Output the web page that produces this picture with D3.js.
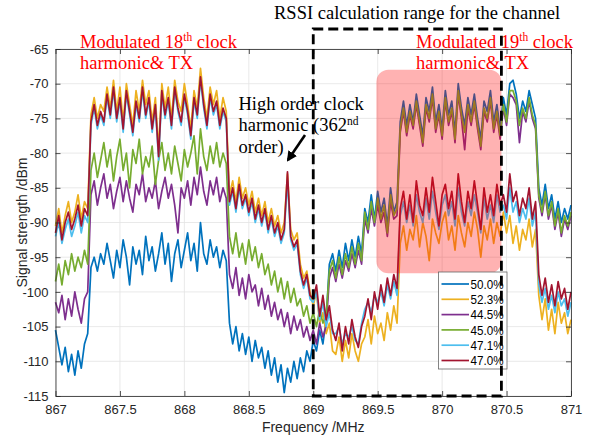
<!DOCTYPE html>
<html>
<head>
<meta charset="utf-8">
<script src="https://cdn.jsdelivr.net/npm/d3@7"></script>
<style>
  body { margin: 0; background: #fff; }
  svg { display: block; }
  .tick text { font-family: "Liberation Sans", Arial, sans-serif; font-size: 13px; fill: #262626; }
  .serif { font-family: "Liberation Serif", "Times New Roman", serif; font-size: 18.5px; }
</style>
</head>
<body>
<svg id="graph"></svg>
<script>
//Tick values
var xTicks = [867, 867.5, 868, 868.5, 869, 869.5, 870, 870.5, 871];
var yTicks = [-65, -70, -75, -80, -85, -90, -95, -100, -105, -110, -115];

//Legend labels and colours (plot order)
var seriesNames = ["50.0%", "52.3%", "44.5%", "45.0%", "47.1%", "47.0%"];
var seriesColors = ["#0072BD", "#EDB120", "#7E2F8E", "#77AC30", "#4DBEEE", "#A2142F"];

//Frequency grid in MHz (0.025 MHz steps, 867 to 871)
var freqs = d3.range(0, 161).map(function(i){ return 867 + i * 0.025; });

//Signal strength in dBm
var s500 = [-105.5,-108.0,-110.5,-108.0,-111.5,-109.0,-112.0,-108.5,-111.0,-107.5,-106.0,
  -96.5,-95.0,-97.0,-94.5,-96.0,-93.0,-95.5,-98.0,-94.0,-96.5,
  -92.5,-95.0,-99.0,-93.5,-96.0,-94.0,-97.5,-92.0,-95.5,-93.5,
  -97.0,-94.5,-91.5,-96.0,-93.0,-98.5,-94.5,-92.5,-96.5,-94.0,
  -91.5,-95.5,-93.0,-97.0,-90.0,-94.5,-96.0,-92.5,-95.0,-93.5,
  -96.5,-94.0,-95.5,
  -104.5,-107.5,-105.0,-108.5,-106.0,-109.0,-106.5,-110.0,-107.0,-109.5,
  -108.0,-111.0,-108.5,-112.0,-109.5,-113.0,-110.5,-114.5,-111.0,-113.0,
  -110.0,-112.5,-109.5,-111.5,-108.5,-110.0,
  -107.0,-108.5,-105.5,-107.5,-104.0,-96.0,-94.5,
  -97.0,-94.0,-96.5,-93.0,-95.5,-92.5,-95.0,-92.0,-94.5,
  -88.0,-90.0,-86.0,-89.5,-85.5,-88.5,-86.5,-90.5,-85.0,-88.5,-87.0,
  -75.5,-72.5,-76.0,-73.0,-75.5,-71.5,-74.5,-77.5,-72.0,-74.0,
  -70.5,-75.5,-73.0,-76.5,-71.0,-74.5,-72.5,-77.0,-70.0,-73.5,
  -76.0,-72.0,-74.5,-71.5,-75.0,-78.0,-72.5,-74.0,-71.0,-75.5,
  -73.0,-76.5,-72.0,-74.5,-70.0,-69.5,-71.5,-75.0,-72.5,-74.0,
  -71.0,-73.0,-75.0,
  -85.0,-87.5,-84.5,-88.0,-86.0,-89.5,-87.0,-90.0,-88.0,-89.5,-87.5];

var s523 = [-90.5,-88.0,-91.5,-89.0,-87.0,-90.0,-88.5,-86.0,-89.5,-87.0,-88.0,
  -74.5,-72.0,-75.0,-73.0,-74.0,-70.5,-73.5,-69.5,-74.0,-70.5,
  -75.5,-70.0,-73.0,-76.0,-71.0,-74.0,-69.5,-73.0,-71.0,-75.5,
  -72.0,-79.5,-70.0,-73.5,-70.5,-75.0,-69.5,-72.5,-74.0,-70.0,
  -73.0,-76.5,-71.0,-73.5,-67.8,-72.0,-75.0,-70.5,-73.0,-71.0,
  -75.0,-72.0,-74.0,
  -86.0,-84.0,-87.0,-83.5,-86.5,-85.0,-87.5,-85.5,-88.5,-86.5,
  -89.0,-87.0,-90.0,-88.0,-90.5,-89.0,-91.5,-90.0,-83.0,-91.0,
  -92.5,-91.5,-96.0,-98.0,-97.0,-100.0,
  -102.0,-100.0,-104.5,-103.0,-106.0,-104.5,-108.5,
  -109.0,-106.5,-110.0,-107.0,-109.5,-106.0,-108.5,-110.0,-107.5,
  -106.5,-104.0,-107.5,-103.5,-106.0,-104.5,-107.0,-103.0,-105.5,-102.0,-104.5,
  -93.0,-90.5,-94.0,-91.0,-92.5,-89.0,-93.5,-90.0,-92.0,-95.5,
  -89.5,-91.5,-93.0,-90.0,-88.5,-92.5,-90.5,-94.0,-89.0,-91.5,
  -93.5,-90.0,-92.0,-88.5,-91.0,-95.0,-90.5,-92.5,-89.5,-93.0,
  -90.0,-92.0,-88.5,-91.5,-89.0,-93.0,-90.5,-94.0,-91.0,-92.5,
  -89.5,-93.5,-91.0,
  -100.5,-104.0,-101.0,-105.5,-102.5,-106.0,-101.5,-104.5,-103.0,-106.0,-104.0];

var s445 = [-101.5,-103.0,-100.5,-104.0,-101.0,-103.5,-100.0,-102.5,-104.5,-101.0,-100.0,
  -86.0,-84.0,-87.5,-85.0,-83.0,-86.5,-84.5,-88.0,-85.5,-83.5,
  -87.0,-84.0,-86.5,-88.5,-84.5,-86.0,-83.0,-87.0,-85.0,-86.5,
  -84.0,-88.0,-85.5,-83.5,-86.5,-84.5,-87.5,-91.5,-85.0,-86.5,
  -84.0,-87.5,-83.5,-86.0,-82.0,-85.5,-87.5,-84.0,-86.0,-83.5,
  -87.0,-85.0,-86.5,
  -97.5,-99.5,-96.5,-100.5,-98.0,-101.0,-97.5,-100.0,-99.0,-102.0,
  -99.5,-102.5,-100.5,-103.5,-101.5,-104.0,-102.5,-105.0,-103.0,-106.0,
  -103.5,-105.5,-104.0,-106.5,-105.0,-107.0,
  -105.5,-107.5,-104.5,-106.5,-105.0,-98.0,-96.5,
  -98.5,-96.0,-98.0,-95.5,-97.0,-94.5,-96.5,-94.0,-96.0,
  -89.5,-91.5,-88.0,-90.5,-87.5,-90.0,-88.5,-92.0,-87.0,-89.5,-89.0,
  -77.0,-74.0,-77.5,-74.5,-76.5,-73.0,-76.0,-79.0,-73.5,-75.5,
  -72.0,-77.0,-74.5,-78.0,-72.5,-76.0,-74.0,-78.5,-71.5,-75.0,
  -79.5,-73.5,-76.0,-73.0,-76.5,-79.5,-74.0,-75.5,-72.5,-77.0,
  -74.5,-78.0,-73.5,-76.0,-71.5,-72.0,-73.0,-78.5,-74.0,-75.5,
  -72.5,-75.0,-76.5,
  -86.5,-89.0,-86.0,-89.5,-87.5,-91.0,-88.5,-92.0,-89.5,-91.0,-89.0];

var s450 = [-98.5,-96.0,-99.0,-95.5,-97.5,-94.5,-97.0,-95.0,-96.5,-94.0,-96.0,
  -82.5,-80.0,-83.5,-81.0,-78.5,-82.0,-79.5,-84.0,-80.5,-78.0,
  -82.5,-80.0,-85.0,-79.5,-81.5,-78.0,-83.0,-80.5,-82.0,-79.0,
  -84.5,-81.0,-78.5,-82.5,-80.0,-83.0,-79.0,-81.5,-84.0,-79.5,
  -82.0,-80.0,-77.5,-83.0,-76.5,-80.5,-82.5,-79.0,-81.5,-78.5,
  -82.0,-80.0,-81.5,
  -92.0,-94.5,-91.5,-95.0,-93.0,-96.0,-92.5,-95.5,-93.5,-96.5,
  -94.5,-97.5,-96.0,-99.0,-97.0,-100.0,-98.0,-101.0,-98.5,-101.5,
  -99.5,-102.0,-101.0,-103.5,-102.0,-104.5,
  -103.0,-105.0,-102.5,-104.5,-103.5,-97.0,-95.5,
  -98.0,-95.0,-97.5,-94.5,-96.5,-93.5,-96.0,-93.0,-95.5,
  -88.5,-91.0,-87.0,-90.0,-86.5,-89.5,-87.5,-91.5,-86.0,-89.0,-88.0,
  -76.5,-73.5,-77.0,-74.0,-76.0,-72.5,-75.5,-78.5,-73.0,-75.0,
  -71.5,-76.5,-74.0,-77.5,-72.0,-75.5,-73.5,-78.0,-71.0,-74.5,
  -77.0,-73.0,-75.5,-72.5,-76.0,-79.0,-73.5,-75.0,-72.0,-76.5,
  -74.0,-77.5,-73.0,-75.5,-71.0,-71.0,-72.5,-76.0,-73.5,-75.0,
  -72.0,-74.5,-76.0,
  -86.0,-88.5,-85.5,-89.0,-87.0,-90.5,-88.0,-91.5,-89.0,-90.5,-88.5];

var s471 = [-92.0,-90.0,-93.0,-91.0,-89.5,-92.0,-90.5,-88.5,-91.5,-89.0,-90.0,
  -76.0,-73.5,-76.5,-74.5,-76.0,-72.0,-75.0,-71.0,-75.5,-72.5,
  -77.0,-71.5,-74.5,-77.5,-73.0,-75.5,-71.0,-75.0,-72.5,-77.0,
  -73.5,-81.0,-71.5,-75.0,-72.5,-76.5,-71.0,-74.0,-76.0,-72.0,
  -74.5,-78.0,-72.5,-75.0,-69.5,-73.5,-76.5,-72.0,-74.5,-73.0,
  -76.5,-74.0,-75.5,
  -87.5,-85.5,-88.5,-85.0,-88.0,-86.5,-89.0,-87.0,-90.0,-88.0,
  -90.5,-88.5,-91.5,-89.5,-92.0,-90.5,-93.0,-91.5,-84.0,-92.5,
  -94.0,-93.0,-97.5,-99.5,-98.0,-101.0,
  -101.5,-100.0,-104.0,-101.5,-105.0,-103.0,-106.0,
  -106.0,-105.0,-107.5,-106.0,-106.5,-105.0,-107.0,-107.5,-104.5,
  -102.5,-101.5,-103.0,-100.5,-101.5,-100.0,-102.0,-99.0,-101.0,-98.5,-100.5,
  -89.0,-87.0,-90.0,-87.5,-90.5,-86.0,-88.5,-90.0,-86.5,-89.5,
  -85.5,-88.5,-91.0,-87.5,-86.0,-89.0,-87.0,-90.5,-85.0,-88.5,
  -90.5,-87.0,-89.0,-86.0,-88.5,-91.5,-86.5,-89.5,-87.5,-90.0,
  -86.0,-88.5,-87.5,-89.5,-85.0,-88.5,-87.0,-90.0,-88.0,-89.5,
  -86.5,-90.5,-88.5,
  -99.0,-101.5,-99.5,-102.5,-100.5,-103.0,-100.0,-102.0,-101.0,-103.5,-101.5];

var s470 = [-91.5,-89.0,-92.5,-90.0,-88.5,-91.0,-89.5,-87.5,-90.5,-88.0,-89.0,
  -75.5,-73.0,-76.0,-74.0,-75.5,-71.5,-74.5,-70.5,-75.0,-72.0,
  -76.5,-71.0,-74.0,-77.0,-72.5,-75.0,-70.5,-74.5,-72.0,-76.5,
  -73.0,-80.5,-71.0,-74.5,-72.0,-76.0,-70.5,-73.5,-75.5,-71.5,
  -74.0,-77.5,-72.0,-74.5,-69.0,-73.0,-76.0,-71.5,-74.0,-72.5,
  -76.0,-73.5,-75.0,
  -87.0,-85.0,-88.0,-84.5,-87.5,-86.0,-88.5,-86.5,-89.5,-87.5,
  -90.0,-88.0,-91.0,-89.0,-91.5,-90.0,-92.5,-91.0,-82.7,-92.0,
  -93.5,-92.5,-97.0,-99.0,-97.5,-100.5,
  -101.0,-99.0,-103.5,-100.5,-104.0,-102.0,-105.5,
  -107.0,-104.5,-108.5,-105.0,-107.5,-104.0,-106.5,-108.0,-105.0,
  -103.5,-101.0,-104.0,-100.0,-102.5,-99.0,-101.5,-98.0,-100.5,-97.5,-99.5,
  -88.0,-85.5,-89.5,-86.0,-90.0,-84.0,-87.5,-89.0,-85.0,-88.5,
  -83.5,-87.0,-90.5,-86.0,-84.5,-88.0,-85.5,-89.5,-83.0,-87.0,
  -90.0,-85.5,-88.0,-84.0,-87.5,-91.0,-85.0,-88.5,-86.0,-89.0,
  -84.5,-87.5,-86.0,-88.5,-83.0,-87.0,-85.5,-89.0,-86.5,-88.0,
  -85.0,-89.5,-87.0,
  -97.5,-100.5,-98.0,-101.5,-99.0,-102.0,-98.5,-101.0,-99.5,-102.5,-100.0];

var seriesValues = [s500, s523, s445, s450, s471, s470];

//Set graph size
var screen = {width: 593, height: 439};
var plot = {left: 55.5, right: 571, top: 49, bottom: 396};

var svg = d3.select("#graph")
    .attr("width", screen.width)
    .attr("height", screen.height);

//Scales
var xScale = d3.scaleLinear()
    .domain([867, 871])
    .range([plot.left, plot.right]);

var yScale = d3.scaleLinear()
    .domain([-115, -65])
    .range([plot.bottom, plot.top]);

//Grid lines
svg.append("g").selectAll("line")
    .data(xTicks)
    .enter()
    .append("line")
    .attr("x1", function(d){ return xScale(d); })
    .attr("x2", function(d){ return xScale(d); })
    .attr("y1", plot.top)
    .attr("y2", plot.bottom)
    .attr("stroke", "#e3e3e3")
    .attr("stroke-width", 0.8);

svg.append("g").selectAll("line")
    .data(yTicks)
    .enter()
    .append("line")
    .attr("y1", function(d){ return yScale(d); })
    .attr("y2", function(d){ return yScale(d); })
    .attr("x1", plot.left)
    .attr("x2", plot.right)
    .attr("stroke", "#e3e3e3")
    .attr("stroke-width", 0.8);

//Spectrum lines
var line = d3.line()
    .x(function(d){ return xScale(d.f); })
    .y(function(d){ return yScale(d.v); });

svg.append("g")
    .selectAll("path")
    .data(seriesValues)
    .enter()
    .append("path")
    .attr("d", function(vals){
        var pts = vals.map(function(v, i){ return {f: freqs[i], v: v}; })
            .filter(function(p){ return p.f !== undefined; });
        return line(pts);
    })
    .attr("fill", "none")
    .attr("stroke", function(d, i){ return seriesColors[i]; })
    .attr("stroke-width", 1.7)
    .attr("stroke-linejoin", "round");

//Highlighted band (semi-transparent red box over the lines)
svg.append("rect")
    .attr("x", xScale(869.49))
    .attr("y", yScale(-68.0))
    .attr("width", xScale(870.46) - xScale(869.49))
    .attr("height", yScale(-97.3) - yScale(-68.0))
    .attr("rx", 12)
    .attr("fill", "rgba(255,0,0,0.3)");

//Axes (ticks point inward, box on)
var fmt = function(d){ return String(d); };

svg.append("g")
    .attr("transform", "translate(0," + plot.bottom + ")")
    .call(d3.axisBottom(xScale).tickValues(xTicks).tickFormat(fmt).tickSizeInner(-5).tickSizeOuter(0).tickPadding(9));

svg.append("g")
    .attr("transform", "translate(" + plot.left + ",0)")
    .call(d3.axisLeft(yScale).tickValues(yTicks).tickFormat(fmt).tickSizeInner(-5).tickSizeOuter(0).tickPadding(7));

svg.append("g")
    .attr("transform", "translate(0," + plot.top + ")")
    .call(d3.axisTop(xScale).tickValues(xTicks).tickFormat("").tickSizeInner(-5).tickSizeOuter(0));

svg.append("g")
    .attr("transform", "translate(" + plot.right + ",0)")
    .call(d3.axisRight(yScale).tickValues(yTicks).tickFormat("").tickSizeInner(-5).tickSizeOuter(0));

svg.selectAll(".domain, .tick line")
    .attr("stroke", "#262626")
    .attr("stroke-width", 0.8);

//Axis labels
svg.append("text")
    .attr("x", (plot.left + plot.right) / 2)
    .attr("y", 432)
    .attr("text-anchor", "middle")
    .style("font-family", "'Liberation Sans', Arial, sans-serif")
    .style("font-size", "14px")
    .attr("fill", "#262626")
    .text("Frequency /MHz");

svg.append("text")
    .attr("transform", "translate(27," + ((plot.top + plot.bottom) / 2) + ") rotate(-90)")
    .attr("text-anchor", "middle")
    .style("font-family", "'Liberation Sans', Arial, sans-serif")
    .style("font-size", "14px")
    .attr("fill", "#262626")
    .text("Signal strength /dBm");

//Annotations (a part with sup is raised, the part after it drops back)
var addText = function(x, y, color, parts)
{
    var t = svg.append("text")
        .attr("class", "serif")
        .attr("x", x)
        .attr("y", y)
        .attr("fill", color);
    var raised = false;
    parts.forEach(function(p){
        if (p.sup) {
            t.append("tspan").attr("dy", -6.5).style("font-size", "11.5px").text(p.sup);
            raised = true;
        } else {
            var span = t.append("tspan").text(p.txt);
            if (raised) { span.attr("dy", 6.5); raised = false; }
        }
    });
};

addText(274, 19, "#000", [{txt: "RSSI calculation range for the channel"}]);

addText(80, 47.7, "#ff0000", [{txt: "Modulated 18"}, {sup: "th"}, {txt: " clock"}]);
addText(80, 69.3, "#ff0000", [{txt: "harmonic& TX"}]);

addText(416, 47.7, "#ff0000", [{txt: "Modulated 19"}, {sup: "th"}, {txt: " clock"}]);
addText(416, 69.3, "#ff0000", [{txt: "harmonic& TX"}]);

addText(238.5, 109.5, "#000", [{txt: "High order clock"}]);
addText(238.5, 131, "#000", [{txt: "harmonic (362"}, {sup: "nd"}]);
addText(238.5, 153, "#000", [{txt: "order)"}]);

//Arrow to the harmonic spike
svg.append("defs").append("marker")
    .attr("id", "arrowHead")
    .attr("viewBox", "0 0 10 10")
    .attr("refX", 8)
    .attr("refY", 5)
    .attr("markerWidth", 4)
    .attr("markerHeight", 4)
    .attr("orient", "auto")
    .append("path")
    .attr("d", "M0,0 L10,5 L0,10 z")
    .attr("fill", "#000");

svg.append("line")
    .attr("x1", 305)
    .attr("y1", 135)
    .attr("x2", 288)
    .attr("y2", 160)
    .attr("stroke", "#000")
    .attr("stroke-width", 2.6)
    .attr("marker-end", "url(#arrowHead)");

//Legend
var legend = svg.append("g");
legend.append("rect")
    .attr("x", 438.5)
    .attr("y", 272)
    .attr("width", 68.5)
    .attr("height", 97)
    .attr("fill", "#fff")
    .attr("stroke", "#666")
    .attr("stroke-width", 0.8);

var rows = legend.selectAll("g.row")
    .data(seriesNames)
    .enter()
    .append("g")
    .attr("transform", function(d, i){ return "translate(0," + (284 + i * 15.3) + ")"; });

rows.append("line")
    .attr("x1", 441.5)
    .attr("x2", 469)
    .attr("stroke", function(d, i){ return seriesColors[i]; })
    .attr("stroke-width", 1.7);

rows.append("text")
    .attr("x", 470.5)
    .attr("y", 4.6)
    .attr("textLength", 33)
    .attr("lengthAdjust", "spacingAndGlyphs")
    .style("font-family", "'Liberation Sans', Arial, sans-serif")
    .style("font-size", "13px")
    .attr("fill", "#000")
    .text(function(d){ return d; });

//RSSI calculation window (dashed box)
svg.append("rect")
    .attr("x", xScale(869))
    .attr("y", 29)
    .attr("width", xScale(870.46) - xScale(869))
    .attr("height", plot.bottom - 29)
    .attr("fill", "none")
    .attr("stroke", "#000")
    .attr("stroke-width", 2.8)
    .attr("stroke-dasharray", "10,5");
</script>
</body>
</html>
